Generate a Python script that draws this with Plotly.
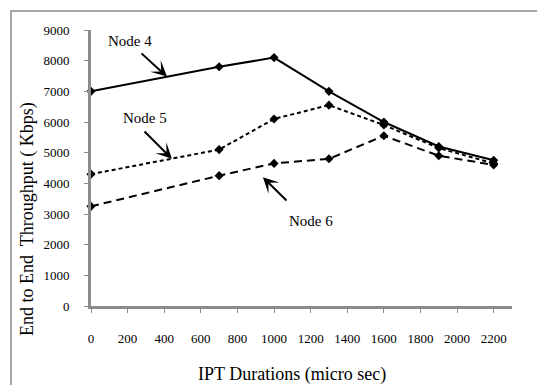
import plotly.graph_objects as go

ipt = [0, 700, 1000, 1300, 1600, 1900, 2200]
node4 = [7000, 7800, 8100, 7000, 6000, 5200, 4750]
node5 = [4300, 5100, 6100, 6550, 5900, 5150, 4650]
node6 = [3250, 4250, 4650, 4800, 5550, 4900, 4600]

x_ticks = list(range(0, 2201, 200))
y_ticks = list(range(0, 9001, 1000))

FONT = "Liberation Serif"
fig = go.Figure()
for vals, dash, name in [(node4, "solid", "Node 4"), (node5, "4px,3px", "Node 5"), (node6, "8px,5px", "Node 6")]:
    fig.add_trace(go.Scatter(
        x=ipt, y=vals, mode="lines+markers", name=name,
        line=dict(color="black", width=2, dash=dash),
        marker=dict(symbol="diamond", size=7, color="black"),
        cliponaxis=False,
    ))

W, H = 537, 385
L, R, T, B = 91, 25, 30, 79
pw, ph = W - L - R, H - T - B

def px(x):
    return (x - L) / pw

def py(y):
    return (H - B - y) / ph

fig.update_layout(
    template="none",
    width=W, height=H, showlegend=False,
    margin=dict(l=L, r=R, t=T, b=B, autoexpand=False),
    paper_bgcolor="white", plot_bgcolor="white",
    font=dict(family=FONT, color="black"),
    xaxis=dict(range=[0, 2300], tickvals=x_ticks, showgrid=False, zeroline=False,
               automargin=False,
               showline=True, linecolor="#8c8c8c", linewidth=3,
               ticks="outside", ticklen=4, tickcolor="#8c8c8c", tickwidth=1,
               tickfont=dict(family=FONT, size=13, color="black"), ticklabelstandoff=14),
    yaxis=dict(range=[0, 9000], tickvals=y_ticks, showgrid=False, zeroline=False,
               automargin=False,
               showline=True, linecolor="#8c8c8c", linewidth=3,
               ticks="outside", ticklen=4, tickcolor="#8c8c8c", tickwidth=1,
               tickfont=dict(family=FONT, size=13, color="black"), ticklabelstandoff=12),
)

# outer frame
fig.add_shape(type="rect", xref="paper", yref="paper",
              x0=px(11), x1=px(600), y0=py(450), y1=py(11),
              line=dict(color="#a6a6a6", width=2), layer="below")

# axis titles
fig.add_annotation(text="End to End  Throughput ( Kbps)", xref="paper", yref="paper",
                   x=px(28), y=py(219), textangle=-90, showarrow=False,
                   xanchor="center", yanchor="middle",
                   font=dict(family=FONT, size=18, color="black"))
fig.add_annotation(text="IPT Durations (micro sec)", xref="paper", yref="paper",
                   x=px(292), y=py(374), showarrow=False,
                   xanchor="center", yanchor="middle",
                   font=dict(family=FONT, size=18, color="black"))

# labels + arrows
labels = [("Node 4", 130, 41, 415, 7480, 140, 52),
          ("Node 5", 145, 118, 442, 4800, 143, 130),
          ("Node 6", 311, 221, 939, 4200, 288, 202)]
for text, tx, ty, hx, hy, ax_px, ay_px in labels:
    fig.add_annotation(text=text, xref="paper", yref="paper", x=px(tx), y=py(ty),
                       showarrow=False, xanchor="center", yanchor="middle",
                       font=dict(family=FONT, size=15, color="black"))
    head_x = L + hx * pw / 2300
    head_y = H - B - hy * ph / 9000
    fig.add_annotation(text="", x=hx, y=hy, xref="x", yref="y",
                       ax=ax_px - head_x, ay=ay_px - head_y,
                       showarrow=True, arrowhead=3, arrowsize=1.3, arrowwidth=2,
                       arrowcolor="black")

fig.write_html("out.html", config={"displayModeBar": False},
               post_script="document.body.style.margin='0';document.body.style.padding='0';")
